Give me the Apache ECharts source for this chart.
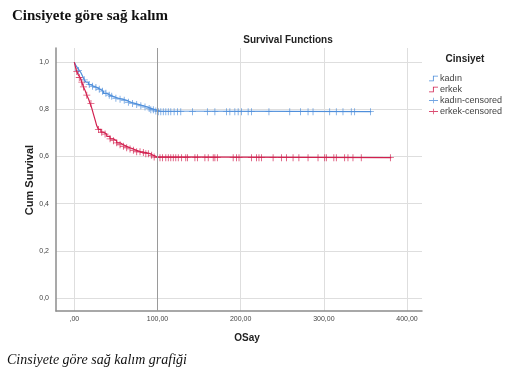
<!DOCTYPE html>
<html><head><meta charset="utf-8">
<script src="https://cdn.jsdelivr.net/npm/echarts@6/dist/echarts.min.js"></script>
<style>html,body{margin:0;padding:0;background:#fff}#c{width:516px;height:386px}</style>
</head><body><div id="c"></div>
<script>
// Kaplan-Meier step curves (time, cumulative survival)
const kadinT = [0,2,4,6,8,10,12,14,17,20,23,27,31,35,39,43,48,53,58,63,68,73,78,83,88,93,98,103,357];
const kadinS = [1.0,0.985,0.975,0.965,0.955,0.94,0.925,0.915,0.905,0.898,0.893,0.885,0.877,0.868,0.86,0.853,0.847,0.843,0.838,0.83,0.825,0.82,0.815,0.81,0.803,0.798,0.793,0.79,0.79];
const erkekT = [0,1,2,3,5,7,9,11,13,15,17,19,21,23,25,27,29,32,35,39,43,47,51,55,59,63,67,71,75,80,86,91,95,100,381];
const erkekS = [1.0,0.985,0.97,0.96,0.945,0.935,0.915,0.895,0.88,0.86,0.845,0.825,0.805,0.78,0.755,0.73,0.715,0.703,0.695,0.685,0.675,0.667,0.658,0.65,0.643,0.637,0.632,0.626,0.62,0.617,0.612,0.605,0.598,0.595,0.595];
// censored observations
const kadinCensT = [5,12,18,22,26,30,34,38,42,45,50,55,60,65,70,75,80,85,90,92,95,98,101,104,107,110,113,116,120,124,128,142,160,169,183,187,193,197,201,209,213,234,259,272,281,287,307,315,323,333,337,356];
const kadinCensS = [0.965,0.925,0.905,0.898,0.893,0.885,0.877,0.868,0.86,0.855,0.847,0.843,0.838,0.83,0.825,0.82,0.815,0.81,0.803,0.798,0.798,0.793,0.79,0.79,0.79,0.79,0.79,0.79,0.79,0.79,0.79,0.79,0.79,0.79,0.79,0.79,0.79,0.79,0.79,0.79,0.79,0.79,0.79,0.79,0.79,0.79,0.79,0.79,0.79,0.79,0.79,0.79];
const erkekCensT = [3,6,9,11,15,20,29,33,37,43,47,51,55,59,63,67,71,75,79,83,86,89,93,96,100,103,106,110,113,116,119,122,125,129,134,136,145,148,157,161,167,169,172,191,195,198,213,219,222,225,239,249,255,263,270,281,293,301,303,312,315,325,329,335,345,380];
const erkekCensS = [0.96,0.935,0.915,0.895,0.86,0.825,0.715,0.703,0.695,0.675,0.667,0.658,0.65,0.643,0.637,0.632,0.626,0.62,0.62,0.617,0.612,0.612,0.605,0.598,0.595,0.595,0.595,0.595,0.595,0.595,0.595,0.595,0.595,0.595,0.595,0.595,0.595,0.595,0.595,0.595,0.595,0.595,0.595,0.595,0.595,0.595,0.595,0.595,0.595,0.595,0.595,0.595,0.595,0.595,0.595,0.595,0.595,0.595,0.595,0.595,0.595,0.595,0.595,0.595,0.595,0.595];
const xTicks = [0,100,200,300,400];
const yTicks = [0,0.2,0.4,0.6,0.8,1.0];
const xLabels = [',00','100,00','200,00','300,00','400,00'];

const BLUE = '#4f8fdb', RED = '#d2204f';
const plusPath = 'path://M4.4,0H5.6V4.4H10V5.6H5.6V10H4.4V5.6H0V4.4H4.4Z';
const stepIcon = 'path://M0,8.5H7V0H16V1.5H8.5V10H0Z';
const censIcon = 'path://M0,4.3H7.3V0H8.7V4.3H16V5.7H8.7V10H7.3V5.7H0Z';

const zip = (a, b) => a.map((v, i) => [v, b[i]]);

const chart = echarts.init(document.getElementById('c'), null, {renderer: 'canvas'});
chart.setOption({
  animation: false,
  grid: {left: 56, right: 94, top: 48, bottom: 75},
  xAxis: {
    type: 'value', min: -22, max: 418,
    axisLine: {show: true, onZero: false, lineStyle: {color: '#8c8c8c', width: 1.5}},
    axisTick: {show: false, customValues: xTicks},
    axisLabel: {customValues: xTicks, formatter: v => xLabels[xTicks.indexOf(v)] || '', fontSize: 7, color: '#444', margin: 5, fontFamily: 'Liberation Sans'},
    splitLine: {show: true, lineStyle: {color: '#dedede', width: 1}}
  },
  yAxis: {
    type: 'value', min: -0.055, max: 1.06,
    axisLine: {show: true, onZero: false, lineStyle: {color: '#8c8c8c', width: 1.5}},
    axisTick: {show: false, customValues: yTicks},
    axisLabel: {customValues: yTicks, formatter: v => v.toFixed(1).replace('.', ','), fontSize: 7, color: '#444', margin: 7, fontFamily: 'Liberation Sans'},
    splitLine: {show: true, lineStyle: {color: '#dedede', width: 1}}
  },
  legend: {
    orient: 'vertical', left: 424, top: 69, itemWidth: 9, itemHeight: 7, itemGap: 2,
    textStyle: {fontSize: 9, color: '#444', fontFamily: 'Liberation Sans', padding: [0,0,0,-3]},
    data: [
      {name: 'kadın', icon: stepIcon, itemStyle: {color: BLUE}},
      {name: 'erkek', icon: stepIcon, itemStyle: {color: RED}},
      {name: 'kadın-censored', icon: censIcon, itemStyle: {color: BLUE}},
      {name: 'erkek-censored', icon: censIcon, itemStyle: {color: RED}}
    ]
  },
  series: [
    {name: 'kadın', type: 'line', step: 'end', data: zip(kadinT, kadinS), showSymbol: false, symbol: 'none',
     lineStyle: {color: BLUE, width: 1.2}, itemStyle: {color: BLUE},
     markLine: {silent: true, symbol: 'none', label: {show: false}, lineStyle: {color: '#9a9a9a', width: 1, type: 'solid'}, data: [{xAxis: 100}]}},
    {name: 'erkek', type: 'line', step: 'end', data: zip(erkekT, erkekS), showSymbol: false, symbol: 'none',
     lineStyle: {color: RED, width: 1.2}, itemStyle: {color: RED}},
    {name: 'kadın-censored', type: 'scatter', data: zip(kadinCensT, kadinCensS), symbol: plusPath, symbolSize: 7,
     itemStyle: {color: BLUE}},
    {name: 'erkek-censored', type: 'scatter', data: zip(erkekCensT, erkekCensS), symbol: plusPath, symbolSize: 7,
     itemStyle: {color: RED}}
  ],
  graphic: [
    {type: 'text', left: 12, top: 9, style: {text: 'Cinsiyete göre sağ kalım', font: 'bold 15px "Liberation Serif"', fill: '#111'}},
    {type: 'text', left: 7, top: 353, style: {text: 'Cinsiyete göre sağ kalım grafiği', font: 'italic 14px "Liberation Serif"', fill: '#111'}},
    {type: 'text', x: 288, y: 40, style: {text: 'Survival Functions', font: 'bold 10px "Liberation Sans"', fill: '#222', align: 'center', verticalAlign: 'middle'}},
    {type: 'text', x: 465, y: 59, style: {text: 'Cinsiyet', font: 'bold 10px "Liberation Sans"', fill: '#222', align: 'center', verticalAlign: 'middle'}},
    {type: 'text', x: 247, y: 338, style: {text: 'OSay', font: 'bold 10px "Liberation Sans"', fill: '#222', align: 'center', verticalAlign: 'middle'}},
    {type: 'text', x: 30, y: 180, rotation: Math.PI / 2, style: {text: 'Cum Survival', font: 'bold 11px "Liberation Sans"', fill: '#222', align: 'center', verticalAlign: 'middle'}}
  ]
});
</script></body></html>
